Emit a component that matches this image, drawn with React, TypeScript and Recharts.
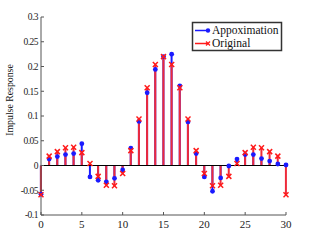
import React from "react"
import { ComposedChart, Bar, Line, XAxis, YAxis, ReferenceLine, Customized } from "recharts"

// sample index
const samples = [
  0, 1, 2, 3, 4, 5, 6, 7, 8, 9, 10, 11, 12, 13, 14, 15, 16, 17, 18, 19, 20, 21, 22, 23, 24, 25, 26, 27, 28,
  29, 30,
]

const approximation = [
  -0.058, 0.013, 0.018, 0.022, 0.024, 0.044, -0.023, -0.03, -0.033, -0.026, -0.009, 0.035, 0.089, 0.147,
  0.194, 0.22, 0.225, 0.161, 0.088, 0.024, -0.023, -0.052, -0.025, -0.001, 0.013, 0.022, 0.022, 0.014,
  0.009, 0.003, 0.001,
]

const original = [
  -0.059, 0.019, 0.028, 0.036, 0.037, 0.026, 0.004, -0.022, -0.04, -0.041, -0.016, 0.03, 0.094, 0.157,
  0.204, 0.22, 0.204, 0.157, 0.094, 0.03, -0.016, -0.041, -0.04, -0.022, 0.004, 0.026, 0.037, 0.036,
  0.028, 0.019, -0.059,
]

const xTicks = [0, 5, 10, 15, 20, 25, 30]
const yTicks = [-0.1, -0.05, 0, 0.05, 0.1, 0.15, 0.2, 0.25, 0.3]

const data = samples.map((n, i) => ({ n, approx: approximation[i], orig: original[i] }))

const BLUE = "#1a1aff"
const RED = "#ff1a1a"
const AXIS = "#555"
const FONT = "'Liberation Serif', 'DejaVu Serif', serif"

const BlueDot = (props: any) => {
  const { cx, cy } = props
  if (cx == null || cy == null) return null
  return <circle cx={cx} cy={cy} r={2.4} fill={BLUE} />
}

const RedCross = (props: any) => {
  const { cx, cy } = props
  if (cx == null || cy == null) return null
  const s = 2.5
  return (
    <g stroke={RED} strokeWidth={1.5}>
      <line x1={cx - s} y1={cy - s} x2={cx + s} y2={cy + s} />
      <line x1={cx - s} y1={cy + s} x2={cx + s} y2={cy - s} />
    </g>
  )
}

// legend drawn inside the chart svg, top right of the plot
const LegendBox = () => (
  <g>
    <path d="M192,22 H281 V51 H192 Z" fill="#ffffff" />
    <path d="M192.5,22.5 H281.5 V50.5 H192.5 Z" fill="none" stroke="#333333" strokeWidth={1.5} />
    <line x1={195} y1={30.5} x2={208} y2={30.5} stroke={BLUE} strokeWidth={1.5} />
    <circle cx={208} cy={30.5} r={2.2} fill={BLUE} />
    <text x={212} y={34} fontSize={11.5} fontFamily={FONT} fill="#111">
      Appoximation
    </text>
    <line x1={195} y1={43.5} x2={208} y2={43.5} stroke={RED} strokeWidth={1.5} />
    <g stroke={RED} strokeWidth={1.2}>
      <line x1={206} y1={41.5} x2={210} y2={45.5} />
      <line x1={206} y1={45.5} x2={210} y2={41.5} />
    </g>
    <text x={212} y={47} fontSize={11.5} fontFamily={FONT} fill="#111">
      Original
    </text>
  </g>
)

const YLabel = () => (
  <text
    x={13}
    y={100}
    transform="rotate(-90 13 100)"
    textAnchor="middle"
    fontSize={9.8}
    fontFamily={FONT}
    fill="#111"
  >
    Impulse Response
  </text>
)

export default function App() {
  return (
    <div style={{ position: "absolute", left: 0, top: 0, width: 314, height: 242, background: "#fff" }}>
      <ComposedChart
        width={314}
        height={242}
        data={data}
        margin={{ top: 17, right: 28, bottom: 0, left: 0 }}
      >
        <XAxis
          xAxisId="a"
          dataKey="n"
          type="number"
          domain={[0, 30]}
          ticks={xTicks}
          height={27}
          stroke={AXIS}
          tickSize={-3}
          tickMargin={8}
          tick={{ fontSize: 11, fill: "#222", fontFamily: FONT }}
        />
        <XAxis xAxisId="b" dataKey="n" type="number" domain={[0, 30]} hide />
        <XAxis
          xAxisId="top"
          dataKey="n"
          type="number"
          orientation="top"
          domain={[0, 30]}
          ticks={xTicks}
          height={0}
          stroke={AXIS}
          tickSize={-3}
          tick={false}
        />
        <YAxis
          type="number"
          domain={[-0.1, 0.3]}
          ticks={yTicks}
          width={41}
          stroke={AXIS}
          tickSize={-3}
          tickMargin={6}
          interval={0}
          tick={{ fontSize: 9.5, fill: "#222", fontFamily: FONT, letterSpacing: -0.5 }}
          label={{ content: () => <YLabel /> }}
        />
        <YAxis
          yAxisId="right"
          orientation="right"
          type="number"
          domain={[-0.1, 0.3]}
          ticks={yTicks}
          width={0}
          stroke={AXIS}
          tickSize={-3}
          tick={false}
        />
        <ReferenceLine xAxisId="a" y={0} stroke="#000" strokeWidth={1} />
        <Bar xAxisId="a" dataKey="approx" fill={BLUE} barSize={2} isAnimationActive={false} />
        <Bar xAxisId="b" dataKey="orig" fill="#ee2a3a" barSize={2} isAnimationActive={false} />
        <Line
          xAxisId="a"
          dataKey="approx"
          stroke="none"
          dot={<BlueDot />}
          activeDot={false}
          isAnimationActive={false}
        />
        <Line
          xAxisId="b"
          dataKey="orig"
          stroke="none"
          dot={<RedCross />}
          activeDot={false}
          isAnimationActive={false}
        />
        <Customized component={<LegendBox />} />
      </ComposedChart>
    </div>
  )
}
